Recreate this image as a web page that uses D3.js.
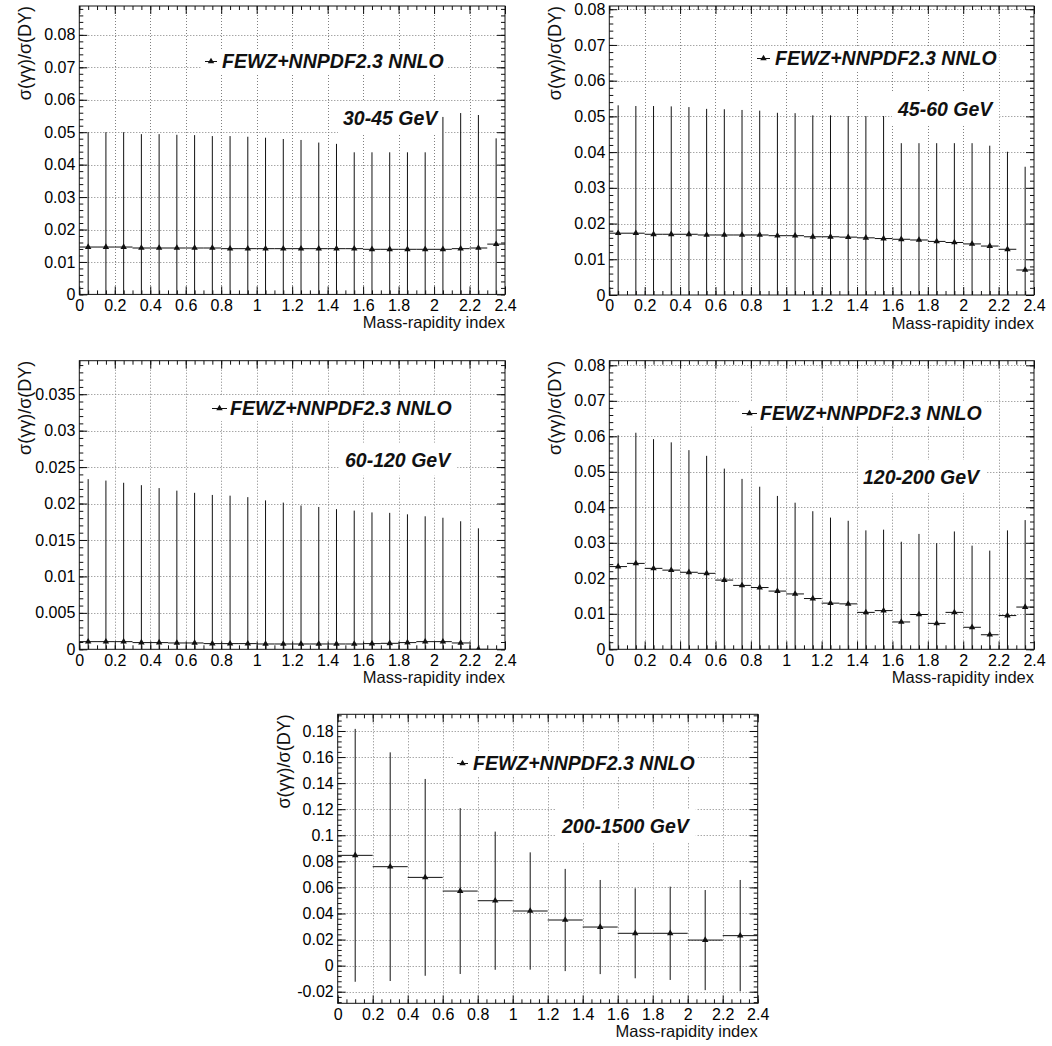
<!DOCTYPE html>
<html>
<head>
<meta charset="utf-8">
<script src="https://cdn.jsdelivr.net/npm/d3@7"></script>
<style>
  html, body { margin: 0; padding: 0; background: #fff; }
  svg { display: block; }
  text { font-family: "Liberation Sans", Arial, Helvetica, sans-serif; }
</style>
</head>
<body>
<svg id="chart" width="1052" height="1046"></svg>
<script>
// ---- labels ----
const massLabels = ["30-45 GeV", "45-60 GeV", "60-120 GeV", "120-200 GeV", "200-1500 GeV"];
const legendLabel = "FEWZ+NNPDF2.3 NNLO";
const xTitle = "Mass-rapidity index";
const yTitle = "σ(γγ)/σ(DY)";
const xTickValues = [0, 0.2, 0.4, 0.6, 0.8, 1, 1.2, 1.4, 1.6, 1.8, 2, 2.2, 2.4];

// ---- bins (mass-rapidity index) ----
const binCenters24 = [0.05, 0.15, 0.25, 0.35, 0.45, 0.55, 0.65, 0.75, 0.85, 0.95, 1.05, 1.15,
                      1.25, 1.35, 1.45, 1.55, 1.65, 1.75, 1.85, 1.95, 2.05, 2.15, 2.25, 2.35];
const binWidth24 = 0.1;
const binCenters12 = [0.1, 0.3, 0.5, 0.7, 0.9, 1.1, 1.3, 1.5, 1.7, 1.9, 2.1, 2.3];
const binWidth12 = 0.2;

// ---- photon-induced / Drell-Yan ratio and its uncertainty ----
const ratio3045 = [0.0146, 0.0146, 0.0146, 0.0143, 0.0143, 0.0143, 0.0143, 0.0143, 0.0141, 0.0141, 0.0141, 0.0141,
                   0.0141, 0.0141, 0.0141, 0.0141, 0.0139, 0.0139, 0.0139, 0.0139, 0.0139, 0.0141, 0.0143, 0.0155];
const err3045   = [0.0354, 0.0354, 0.0354, 0.0351, 0.0351, 0.0349, 0.0348, 0.0345, 0.0347, 0.0345, 0.0342, 0.0338,
                   0.0335, 0.0327, 0.0323, 0.0297, 0.0299, 0.0299, 0.0299, 0.0299, 0.0408, 0.0418, 0.0410, 0.0326];

const ratio4560 = [0.0173, 0.0173, 0.0170, 0.0170, 0.0170, 0.0168, 0.0168, 0.0168, 0.0168, 0.0166, 0.0166, 0.0163,
                   0.0163, 0.0162, 0.0160, 0.0158, 0.0156, 0.0154, 0.0150, 0.0147, 0.0143, 0.0137, 0.0128, 0.0070];
const err4560   = [0.0358, 0.0356, 0.0359, 0.0358, 0.0356, 0.0353, 0.0352, 0.0350, 0.0348, 0.0344, 0.0343, 0.0340,
                   0.0340, 0.0339, 0.0341, 0.0343, 0.0269, 0.0271, 0.0275, 0.0278, 0.0282, 0.0281, 0.0273, 0.0289];

const ratio60120 = [0.00105, 0.00105, 0.00105, 0.00092, 0.00092, 0.00087, 0.00087, 0.00078, 0.00078, 0.00078, 0.00073, 0.00073,
                    0.00073, 0.00073, 0.00073, 0.00073, 0.00078, 0.00082, 0.00092, 0.00105, 0.00105, 0.00087, 0.0];
const err60120   = [0.0223, 0.0221, 0.0218, 0.0216, 0.0212, 0.0209, 0.0206, 0.0204, 0.0203, 0.0201, 0.0197, 0.0194,
                    0.0190, 0.0188, 0.0185, 0.0183, 0.0180, 0.0179, 0.0176, 0.0172, 0.0170, 0.0167, 0.0166];

const ratio120200 = [0.0233, 0.0242, 0.0228, 0.0223, 0.0217, 0.0214, 0.0195, 0.0180, 0.0174, 0.0164, 0.0156, 0.0143,
                     0.0130, 0.0128, 0.0104, 0.0109, 0.0077, 0.0098, 0.0073, 0.0104, 0.0062, 0.0041, 0.0095, 0.0119];
const err120200   = [0.0370, 0.0368, 0.0364, 0.0360, 0.0344, 0.0331, 0.0314, 0.0300, 0.0284, 0.0268, 0.0257, 0.0246,
                     0.0241, 0.0234, 0.0231, 0.0228, 0.0226, 0.0227, 0.0226, 0.0228, 0.0230, 0.0237, 0.0240, 0.0245];

const ratio2001500 = [0.0846, 0.0759, 0.0677, 0.0572, 0.0498, 0.0419, 0.0350, 0.0296, 0.0248, 0.0248, 0.0196, 0.0230];
const err2001500   = [0.0970, 0.0877, 0.0755, 0.0636, 0.0530, 0.0450, 0.0392, 0.0361, 0.0345, 0.0358, 0.0384, 0.0427];

// ---- panel layout ----
const panels = [
  { tag: massLabels[0], centers: binCenters24, width: binWidth24, values: ratio3045, errors: err3045,
    frame: { l: 79.3, r: 505, t: 6, b: 294.4 }, yDomain: [0, 0.0889], yMajor: 0.01, yMinor: 0.002,
    legend: { x0: 205, x1: 217, tx: 222, by: 68 }, label: { tx: 343, by: 125 } },
  { tag: massLabels[1], centers: binCenters24, width: binWidth24, values: ratio4560, errors: err4560,
    frame: { l: 609.3, r: 1034, t: 6, b: 295 }, yDomain: [0, 0.0809], yMajor: 0.01, yMinor: 0.002,
    legend: { x0: 757, x1: 770, tx: 775, by: 65 }, label: { tx: 898, by: 116 } },
  { tag: massLabels[2], centers: binCenters24, width: binWidth24, values: ratio60120, errors: err60120,
    frame: { l: 79.3, r: 505, t: 360.7, b: 649.3 }, yDomain: [0, 0.0396], yMajor: 0.005, yMinor: 0.001,
    legend: { x0: 212, x1: 227, tx: 230, by: 415 }, label: { tx: 345, by: 466.7 } },
  { tag: massLabels[3], centers: binCenters24, width: binWidth24, values: ratio120200, errors: err120200,
    frame: { l: 609.3, r: 1034, t: 360.7, b: 649.3 }, yDomain: [0, 0.0813], yMajor: 0.01, yMinor: 0.002,
    legend: { x0: 742, x1: 757, tx: 760, by: 420 }, label: { tx: 863, by: 484 } },
  { tag: massLabels[4], centers: binCenters12, width: binWidth12, values: ratio2001500, errors: err2001500,
    frame: { l: 337.7, r: 757.7, t: 714.3, b: 1003.3 }, yDomain: [-0.0289, 0.1928], yMajor: 0.02, yMinor: 0.004,
    legend: { x0: 457, x1: 468, tx: 473, by: 770 }, label: { tx: 562, by: 833 } }
];

const svg = d3.select("#chart");
const TICK_FONT = 16;
const BIG_TICK = 8, SMALL_TICK = 4;
const gridColor = "#808080";
const inkColor = "#111";

function multiples(lo, hi, step) {
  const out = [];
  const i0 = Math.ceil(lo / step - 1e-9), i1 = Math.floor(hi / step + 1e-9);
  for (let i = i0; i <= i1; i++) out.push(+(i * step).toFixed(6));
  return out;
}
const fmt = d => String(+d.toFixed(6));

panels.forEach((p, pi) => {
  const f = p.frame;
  const g = svg.append("g");
  const x = d3.scaleLinear().domain([0, 2.4]).range([f.l, f.r]);
  const y = d3.scaleLinear().domain(p.yDomain).range([f.b, f.t]);

  const yMajorTicks = multiples(p.yDomain[0], p.yDomain[1], p.yMajor);
  const yMinorTicks = multiples(p.yDomain[0], p.yDomain[1], p.yMinor);
  const xMinorTicks = multiples(0, 2.4, 0.05);

  // dotted grid at the major divisions
  const grid = g.append("g").attr("stroke", gridColor).attr("stroke-width", 1)
    .attr("stroke-dasharray", "1,2").attr("fill", "none");
  grid.selectAll("line.gx").data(xTickValues.filter(v => v > 0 && v < 2.4)).join("line")
    .attr("x1", d => Math.round(x(d)) + 0.5).attr("x2", d => Math.round(x(d)) + 0.5)
    .attr("y1", f.t).attr("y2", f.b);
  grid.selectAll("line.gy").data(yMajorTicks.filter(v => y(v) < f.b - 1 && y(v) > f.t + 1)).join("line")
    .attr("x1", f.l).attr("x2", f.r)
    .attr("y1", d => Math.round(y(d)) + 0.5).attr("y2", d => Math.round(y(d)) + 0.5);

  // boxes behind legend and mass-range label
  const boxLayer = g.append("g");

  // data: horizontal bin extent, vertical uncertainty, triangle marker
  const clipId = "clip" + pi;
  g.append("clipPath").attr("id", clipId).append("rect")
    .attr("x", f.l).attr("y", f.t).attr("width", f.r - f.l).attr("height", f.b - f.t);
  const pts = p.values.map((v, i) => ({ c: p.centers[i], v, e: p.errors[i] }));
  const dg = g.append("g").attr("clip-path", `url(#${clipId})`)
    .attr("stroke", inkColor).attr("stroke-width", 1).attr("fill", "none");
  dg.selectAll("line.xe").data(pts).join("line")
    .attr("x1", d => x(d.c - p.width / 2)).attr("x2", d => x(d.c + p.width / 2))
    .attr("y1", d => y(d.v)).attr("y2", d => y(d.v));
  dg.selectAll("line.ye").data(pts).join("line")
    .attr("x1", d => x(d.c)).attr("x2", d => x(d.c))
    .attr("y1", d => y(d.v - d.e)).attr("y2", d => y(d.v + d.e));
  const tri = d3.symbol(d3.symbolTriangle, 18);
  g.append("g").attr("clip-path", `url(#${clipId})`).selectAll("path").data(pts).join("path")
    .attr("d", tri).attr("fill", inkColor)
    .attr("transform", d => `translate(${x(d.c)},${y(d.v)})`);

  // axes: ticks point inward on all four sides
  const bottom = g.append("g").attr("transform", `translate(0,${f.b})`)
    .call(d3.axisBottom(x).tickValues(xTickValues).tickSize(-BIG_TICK).tickPadding(5).tickFormat(fmt));
  bottom.attr("font-size", TICK_FONT);
  g.append("g").attr("transform", `translate(0,${f.b})`)
    .call(d3.axisBottom(x).tickValues(xMinorTicks).tickSize(-SMALL_TICK).tickFormat(""));
  g.append("g").attr("transform", `translate(0,${f.t})`)
    .call(d3.axisTop(x).tickValues(xTickValues).tickSize(-BIG_TICK).tickFormat(""));
  g.append("g").attr("transform", `translate(0,${f.t})`)
    .call(d3.axisTop(x).tickValues(xMinorTicks).tickSize(-SMALL_TICK).tickFormat(""));

  const left = g.append("g").attr("transform", `translate(${f.l},0)`)
    .call(d3.axisLeft(y).tickValues(yMajorTicks).tickSize(-BIG_TICK).tickPadding(4).tickFormat(fmt));
  left.attr("font-size", TICK_FONT);
  g.append("g").attr("transform", `translate(${f.l},0)`)
    .call(d3.axisLeft(y).tickValues(yMinorTicks).tickSize(-SMALL_TICK).tickFormat(""));
  g.append("g").attr("transform", `translate(${f.r},0)`)
    .call(d3.axisRight(y).tickValues(yMajorTicks).tickSize(-BIG_TICK).tickFormat(""));
  g.append("g").attr("transform", `translate(${f.r},0)`)
    .call(d3.axisRight(y).tickValues(yMinorTicks).tickSize(-SMALL_TICK).tickFormat(""));
  g.selectAll(".domain").remove();
  g.selectAll(".tick line").attr("stroke", inkColor);

  // frame
  g.append("rect").attr("x", f.l).attr("y", f.t).attr("width", f.r - f.l).attr("height", f.b - f.t)
    .attr("fill", "none").attr("stroke", inkColor).attr("stroke-width", 1);

  // axis titles
  g.append("text").attr("x", f.r).attr("y", f.b + 34).attr("text-anchor", "end")
    .attr("font-size", 16.5).attr("fill", inkColor).text(xTitle);
  g.append("text").attr("transform", `translate(${f.l - 48},${f.t}) rotate(-90)`)
    .attr("text-anchor", "end").attr("font-size", 18).attr("fill", inkColor).text(yTitle);

  // legend entry
  const L = p.legend;
  const legText = g.append("text").attr("x", L.tx).attr("y", L.by)
    .attr("font-size", 19.5).attr("font-weight", "bold").attr("font-style", "italic")
    .attr("fill", inkColor).text(legendLabel);
  const my = L.by - 6.5;
  g.append("line").attr("x1", L.x0).attr("x2", L.x1).attr("y1", my).attr("y2", my)
    .attr("stroke", inkColor).attr("stroke-width", 1);
  g.append("path").attr("d", tri).attr("fill", inkColor)
    .attr("transform", `translate(${(L.x0 + L.x1) / 2},${my})`);

  // mass-range label
  const T = p.label;
  const tagText = g.append("text").attr("x", T.tx).attr("y", T.by)
    .attr("font-size", 19.5).attr("font-weight", "bold").attr("font-style", "italic")
    .attr("fill", inkColor).text(p.tag);

  const lb = legText.node().getBBox();
  boxLayer.append("rect").attr("x", L.x0 - 3).attr("y", L.by - 19)
    .attr("width", lb.x + lb.width + 3 - (L.x0 - 3)).attr("height", 25).attr("fill", "#fff");
  const tb = tagText.node().getBBox();
  boxLayer.append("rect").attr("x", tb.x - 5).attr("y", T.by - 24)
    .attr("width", tb.width + 10).attr("height", 33).attr("fill", "#fff");
});
</script>
</body>
</html>
